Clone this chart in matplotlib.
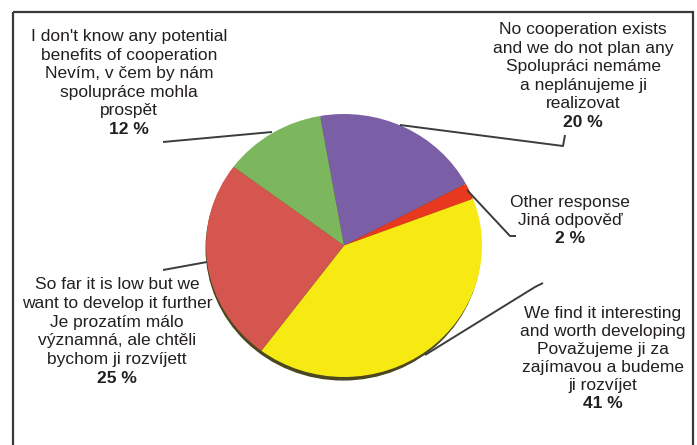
import matplotlib
matplotlib.use("Agg")
import matplotlib.pyplot as plt
from matplotlib.patches import Rectangle, Ellipse

plt.rcParams['font.family'] = ['Liberation Sans', 'DejaVu Sans']

# slices, clockwise from the top
shares = [20, 2, 41, 25, 12]
colors = ['#7a5fa6', '#e8381f', '#f6ea12', '#d5564f', '#7db75d']
labels = [
    ["No cooperation exists", "and we do not plan any", "Spolupráci nemáme",
     "a neplánujeme ji", "realizovat"],
    ["Other response", "Jiná odpověď"],
    ["We find it interesting", "and worth developing", "Považujeme ji za",
     "zajímavou a budeme", "ji rozvíjet"],
    ["So far it is low but we", "want to develop it further", "Je prozatím málo",
     "významná, ale chtěli", "bychom ji rozvíjett"],
    ["I don't know any potential", "benefits of cooperation", "Nevím, v čem by nám",
     "spolupráce mohla", "prospět"],
]

W, H = 697, 445
fig = plt.figure(figsize=(W / 100, H / 100), dpi=100)

# pie (slightly squashed, like the 3D original)
px0, px1, py0, py1 = 206, 482, 114, 377
pax = fig.add_axes([px0 / W, 1 - py1 / H, (px1 - px0) / W, (py1 - py0) / H])
pax.add_patch(Ellipse((-0.006, -0.022), 1.985, 2.0, color='#4b4720', zorder=0, clip_on=False))
wedges, _ = pax.pie(shares, colors=colors, startangle=100, counterclock=False,
                    radius=1, wedgeprops=dict(linewidth=0))
for w in wedges:
    w.set_clip_on(False)
pax.set_aspect('auto')
pax.set_xlim(-1, 1)
pax.set_ylim(-1, 1)
pax.axis('off')

# overlay in pixel coordinates (y down)
ax = fig.add_axes([0, 0, 1, 1])
ax.set_xlim(0, W)
ax.set_ylim(H, 0)
ax.patch.set_alpha(0)
ax.axis('off')

ax.add_patch(Rectangle((13, 12), 680, 460, fill=False, ec='#3a3a3a', lw=1.6, clip_on=True))

leaders = [
    [(400, 125), (563, 146), (565, 135)],
    [(467, 190), (510, 236), (516, 236)],
    [(425, 355), (535, 287), (543, 283)],
    [(207, 262), (163, 270)],
    [(272, 132), (163, 142)],
]
for pts in leaders:
    xs, ys = zip(*pts)
    ax.plot(xs, ys, color='#3c3c3c', lw=1.4, solid_capstyle='butt')

# label blocks: centre x, first line centre y, line step
blocks = [(583, 28, 18.6), (570, 201, 18.0), (603, 312, 18.0),
          (117, 283, 18.8), (129, 35, 18.6)]
for (cx, y0, step), lines, v in zip(blocks, labels, shares):
    for i, t in enumerate(lines):
        ax.text(cx, y0 + i * step + 6, t, ha='center', va='baseline',
                fontsize=12.5, color='#231f20')
    ax.text(cx, y0 + len(lines) * step + 6, f"{v} %", ha='center', va='baseline',
            fontsize=12.5, fontweight='bold', color='#231f20')

fig.savefig('out.png', dpi=100)
